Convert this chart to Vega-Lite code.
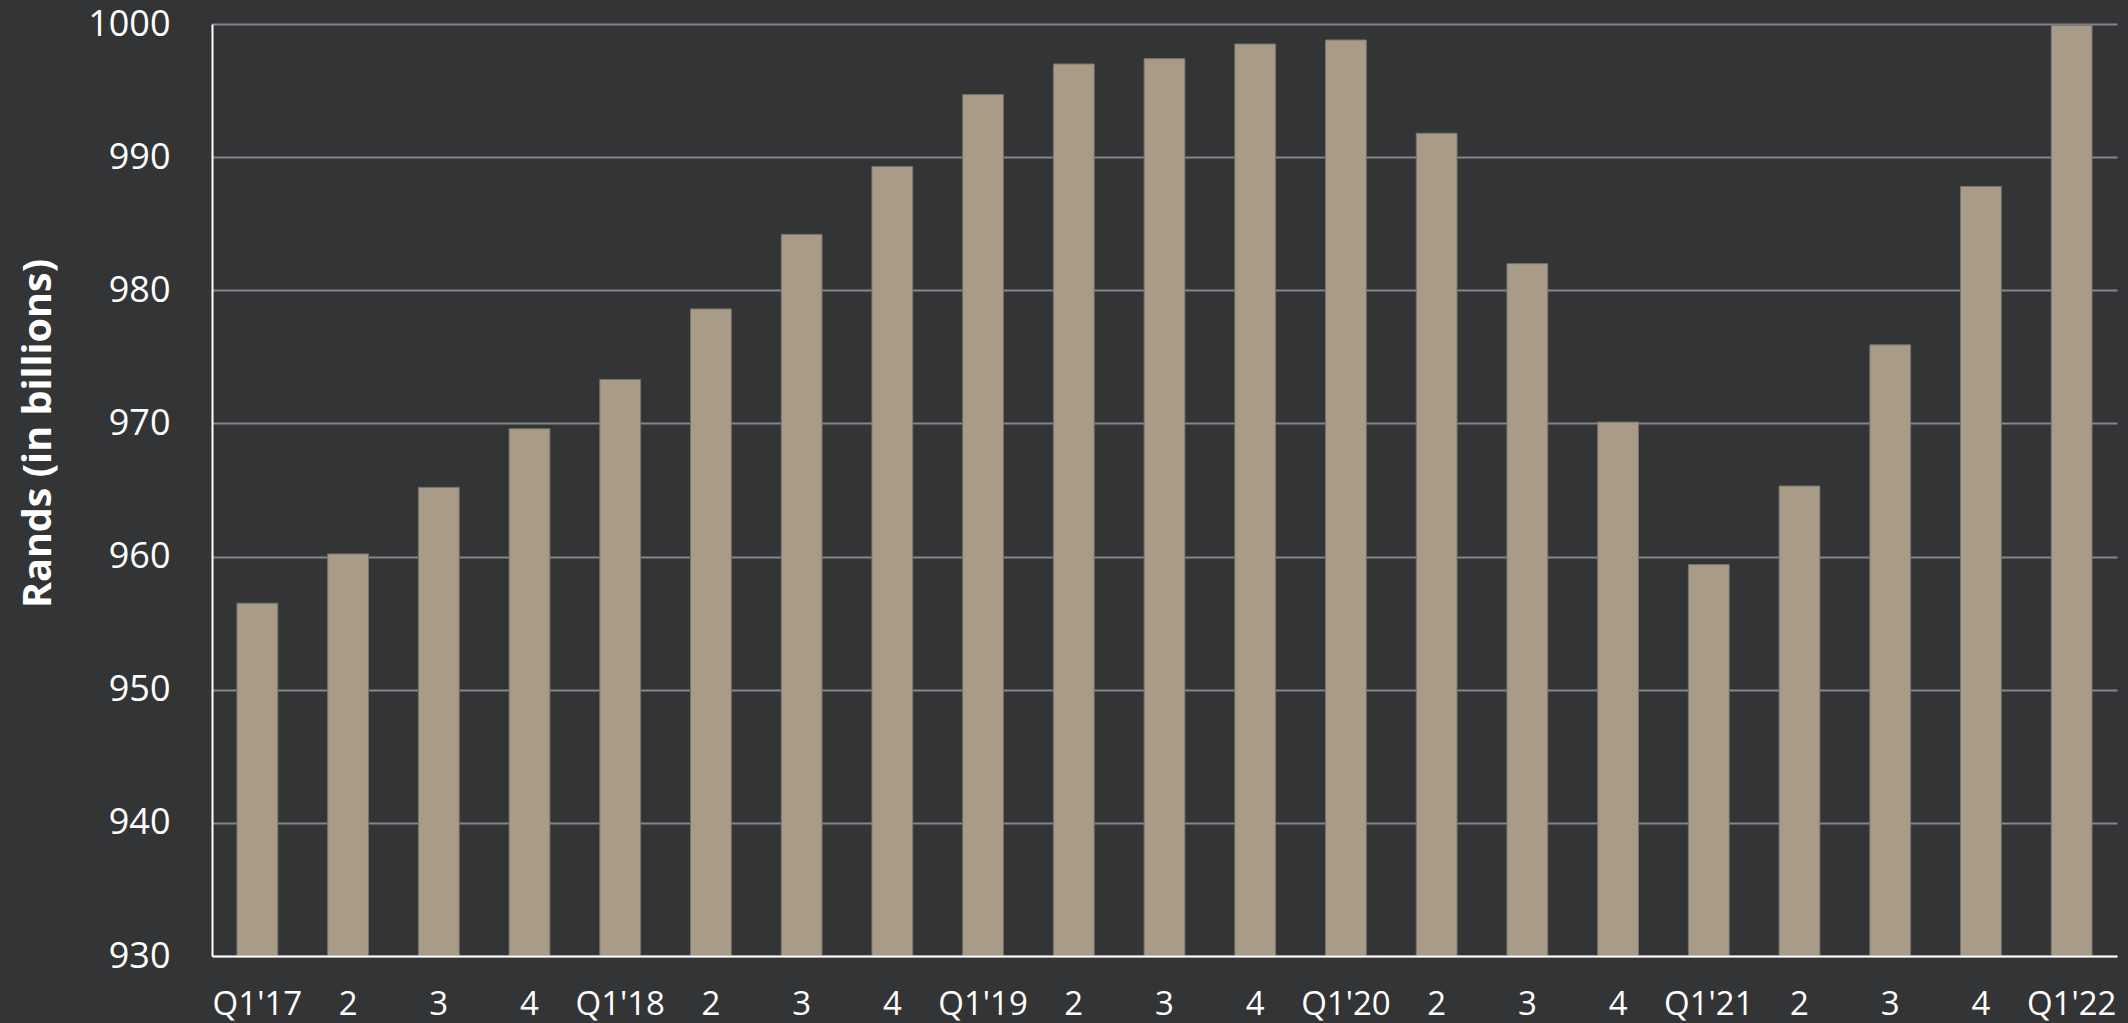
{
  "$schema": "https://vega.github.io/schema/vega-lite/v6.json",
  "width": 1905,
  "height": 932,
  "autosize": {"type": "none"},
  "padding": {"left": 212, "top": 24, "right": 11, "bottom": 67},
  "background": "#333436",
  "config": {
    "view": {"stroke": null},
    "font": "Open Sans"
  },
  "data": {
    "values": [
      {"idx": 0, "quarter": "Q1'17", "rands": 956.5},
      {"idx": 1, "quarter": "2", "rands": 960.2},
      {"idx": 2, "quarter": "3", "rands": 965.2},
      {"idx": 3, "quarter": "4", "rands": 969.6},
      {"idx": 4, "quarter": "Q1'18", "rands": 973.3},
      {"idx": 5, "quarter": "2", "rands": 978.6},
      {"idx": 6, "quarter": "3", "rands": 984.2},
      {"idx": 7, "quarter": "4", "rands": 989.3},
      {"idx": 8, "quarter": "Q1'19", "rands": 994.7},
      {"idx": 9, "quarter": "2", "rands": 997.0},
      {"idx": 10, "quarter": "3", "rands": 997.4},
      {"idx": 11, "quarter": "4", "rands": 998.5},
      {"idx": 12, "quarter": "Q1'20", "rands": 998.8},
      {"idx": 13, "quarter": "2", "rands": 991.8},
      {"idx": 14, "quarter": "3", "rands": 982.0},
      {"idx": 15, "quarter": "4", "rands": 970.1},
      {"idx": 16, "quarter": "Q1'21", "rands": 959.4},
      {"idx": 17, "quarter": "2", "rands": 965.3},
      {"idx": 18, "quarter": "3", "rands": 975.9},
      {"idx": 19, "quarter": "4", "rands": 987.8},
      {"idx": 20, "quarter": "Q1'22", "rands": 999.9}
    ]
  },
  "mark": {
    "type": "bar",
    "color": "#a89c88",
    "stroke": "#77736c",
    "strokeWidth": 1
  },
  "encoding": {
    "x": {
      "field": "idx",
      "type": "ordinal",
      "sort": null,
      "scale": {"paddingInner": 0.55, "paddingOuter": 0.275},
      "axis": {
        "title": null,
        "labelAngle": 0,
        "labelExpr": "['Q1\\'17','2','3','4','Q1\\'18','2','3','4','Q1\\'19','2','3','4','Q1\\'20','2','3','4','Q1\\'21','2','3','4','Q1\\'22'][datum.value]",
        "labelFont": "Open Sans",
        "labelFontSize": 33,
        "labelColor": "#ffffff",
        "labelPadding": 32,
        "ticks": false,
        "domainColor": "#ffffff",
        "domainWidth": 2,
        "grid": false,
        "zindex": 1
      }
    },
    "y": {
      "field": "rands",
      "type": "quantitative",
      "scale": {"domain": [930, 1000], "nice": false, "zero": false},
      "axis": {
        "title": "Rands (in billions)",
        "titleFont": "Open Sans",
        "titleFontSize": 39.5,
        "titleFontWeight": "bold",
        "titleColor": "#ffffff",
        "titleAngle": 270,
        "titleAlign": "center",
        "titleBaseline": "middle",
        "titleX": -174,
        "titleY": 409,
        "values": [930, 940, 950, 960, 970, 980, 990, 1000],
        "format": "d",
        "labelFont": "Open Sans",
        "labelFontSize": 36,
        "labelColor": "#ffffff",
        "labelPadding": 42,
        "ticks": false,
        "domainColor": "#ffffff",
        "domainWidth": 2,
        "grid": true,
        "gridColor": "#85868a",
        "gridWidth": 2
      }
    },
    "y2": {"datum": 930}
  }
}
